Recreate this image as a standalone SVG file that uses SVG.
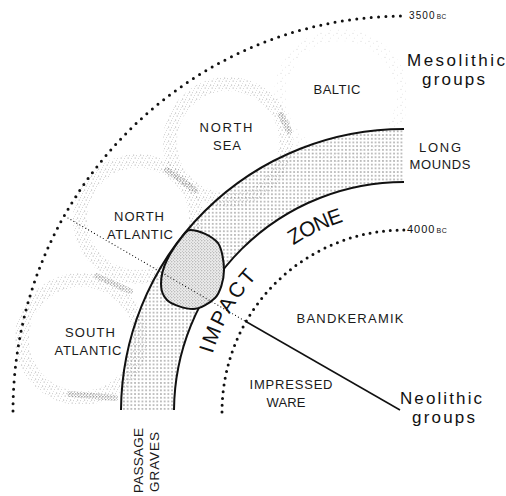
<svg xmlns="http://www.w3.org/2000/svg" width="506" height="496" viewBox="0 0 506 496">
<style>
.lbl{font-family:"Liberation Sans",Arial,sans-serif;font-size:13px;fill:#1a1a1a;text-anchor:middle}
.big{font-family:"Liberation Sans",Arial,sans-serif;font-size:17px;fill:#111}
.zone{font-family:"Liberation Sans",Arial,sans-serif;font-size:21px;fill:#111}
.date{font-family:"Liberation Sans",Arial,sans-serif;fill:#111}
.edge{fill:none;stroke:#111;stroke-width:2}
.bigdots{fill:none;stroke:#111;stroke-width:3;stroke-linecap:round}
.ring{fill:none;stroke:url(#stip);stroke-width:14}
.streak{fill:none;stroke:url(#dark);stroke-width:6;stroke-linecap:round}
</style>
<defs>
<pattern id="stip" width="7" height="7" patternUnits="userSpaceOnUse">
<circle cx="0.7" cy="0.9" r="0.5" fill="#888"/>
<circle cx="3.6" cy="1.8" r="0.45" fill="#999"/>
<circle cx="2.1" cy="4.1" r="0.5" fill="#888"/>
<circle cx="5.6" cy="4.6" r="0.45" fill="#999"/>
<circle cx="4.4" cy="6.3" r="0.4" fill="#aaa"/>
<circle cx="6.2" cy="2.6" r="0.4" fill="#aaa"/>
</pattern>
<pattern id="stipL" width="8" height="8" patternUnits="userSpaceOnUse">
<circle cx="1" cy="1.2" r="0.45" fill="#aaa"/>
<circle cx="5.5" cy="3.1" r="0.4" fill="#bbb"/>
<circle cx="2.3" cy="6.1" r="0.4" fill="#bbb"/>
</pattern>
<pattern id="dark" width="3" height="3" patternUnits="userSpaceOnUse">
<circle cx="0.8" cy="0.8" r="0.6" fill="#555"/>
<circle cx="2.3" cy="2.1" r="0.5" fill="#666"/>
</pattern>
<pattern id="half" width="3.7" height="3.7" patternUnits="userSpaceOnUse">
<circle cx="1.85" cy="1.85" r="0.6" fill="#444"/>
</pattern>
<pattern id="dense" width="3" height="3" patternUnits="userSpaceOnUse">
<rect width="3" height="3" fill="#ececec"/>
<circle cx="0.8" cy="0.8" r="0.5" fill="#777"/>
<circle cx="2.3" cy="2.2" r="0.45" fill="#888"/>
</pattern>
<path id="zonearc" d="M207,377.3 A200,200 0 0 1 386.6,212.8"/>
</defs>

<g id="mesolithic-circles">
<g id="baltic"><circle cx="341" cy="96" r="61" fill="none" stroke="url(#stipL)" stroke-width="12"/></g>
<g id="north-sea"><circle cx="228" cy="142" r="58" class="ring"/></g>
<g id="north-atlantic-circle"><circle cx="138" cy="219" r="58" class="ring"/></g>
<g id="south-atlantic-circle"><circle cx="81" cy="339" r="59" class="ring"/></g>
<path class="streak" d="M167,170 L195,190"/>
<path class="streak" d="M281,115 L289,131"/>
<path class="streak" d="M97,276 L130,291"/>
<path class="streak" d="M70,394 L115,398"/>
</g>

<g id="impact-band">
<path d="M121,410 A283,283 0 0 1 404,129 L404,182 A230,230 0 0 0 174,410 Z" fill="url(#half)"/>
<path class="edge" d="M121,410 A283,283 0 0 1 404,129"/>
<path class="edge" d="M174,410 A230,230 0 0 1 404,182"/>
</g>

<g id="overlap">
<path d="M190,230 C199,230 212,236 218,243 C222,249 224,262 224,270 C224,280 220,293 215,298 C210,303 200,309 193,309 C186,309 172,305 167,300 C163,296 161,292 161,284 C161,276 163,268 167,260 C171,252 178,242 182,237 C185,233 187,230 190,230 Z" fill="url(#dense)" stroke="#111" stroke-width="2"/>
</g>

<g id="date-arcs">
<path class="bigdots" d="M13,411 A392,395 0 0 1 405,16" stroke-dasharray="0 7.3"/>
<path class="bigdots" d="M222,412 A182,182 0 0 1 404,230" stroke-dasharray="0 6.8"/>
</g>

<g id="connectors">
<path d="M68,218 L245,321" fill="none" stroke="#111" stroke-width="1.2" stroke-linecap="round" stroke-dasharray="0 3.4"/>
<path d="M245,321 L400,410" fill="none" stroke="#111" stroke-width="1.5"/>
</g>

<g id="zone-label">
<text class="zone"><textPath href="#zonearc" startOffset="24" textLength="90" lengthAdjust="spacing">IMPACT</textPath></text>
<text class="zone"><textPath href="#zonearc" startOffset="162" textLength="56" lengthAdjust="spacing">ZONE</textPath></text>
</g>

<g id="labels">
<text class="lbl" x="337" y="94" textLength="47">BALTIC</text>
<text class="lbl" x="226" y="132" textLength="53">NORTH</text>
<text class="lbl" x="227" y="150" textLength="28">SEA</text>
<text class="lbl" x="440" y="152" textLength="42">LONG</text>
<text class="lbl" x="440" y="169" textLength="61">MOUNDS</text>
<text class="lbl" x="139" y="221" textLength="50">NORTH</text>
<text class="lbl" x="140" y="239" textLength="66">ATLANTIC</text>
<text class="lbl" x="90" y="337" textLength="50">SOUTH</text>
<text class="lbl" x="88" y="355" textLength="67">ATLANTIC</text>
<text class="lbl" x="350" y="323" textLength="107">BANDKERAMIK</text>
<text class="lbl" x="291" y="389" textLength="83">IMPRESSED</text>
<text class="lbl" x="286" y="407" textLength="39">WARE</text>
<text class="lbl" transform="translate(143,460.5) rotate(-90)" x="0" y="0" textLength="65" style="font-size:13.5px">PASSAGE</text>
<text class="lbl" transform="translate(159,462) rotate(-90)" x="0" y="0" textLength="60" style="font-size:13.5px">GRAVES</text>
<text class="big" x="407" y="66" textLength="98">Mesolithic</text>
<text class="big" x="422" y="85" textLength="63">groups</text>
<text class="big" x="400" y="404" textLength="82">Neolithic</text>
<text class="big" x="412" y="423" textLength="63">groups</text>
<text class="date" x="409" y="19" style="font-size:10px;letter-spacing:1.1px">3500<tspan style="font-size:6.5px;letter-spacing:0.5px" dx="1">BC</tspan></text>
<text class="date" x="407" y="233" style="font-size:11px;letter-spacing:1px">4000<tspan style="font-size:7px;letter-spacing:0.5px" dx="1">BC</tspan></text>
</g>
</svg>
